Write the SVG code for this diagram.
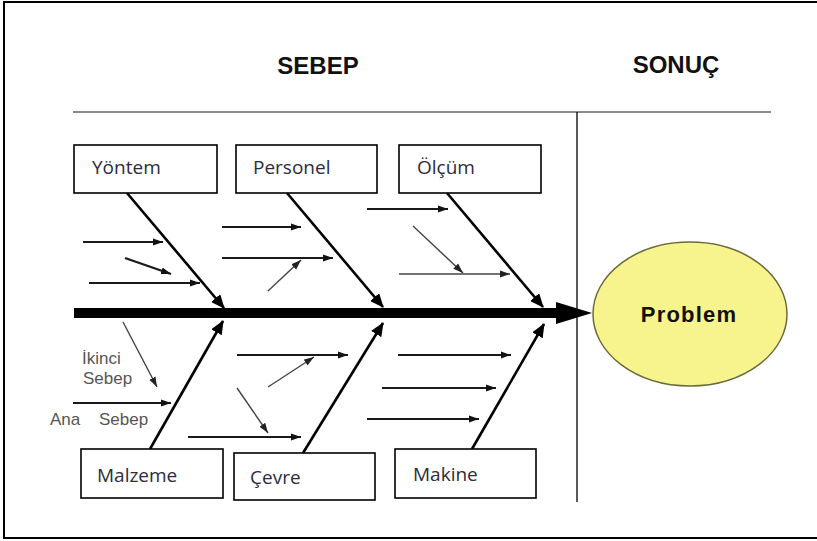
<svg xmlns="http://www.w3.org/2000/svg" width="817" height="541" viewBox="0 0 817 541">
  <defs>
    <marker id="headBig" markerUnits="userSpaceOnUse" markerWidth="14" markerHeight="12" refX="13" refY="6" orient="auto">
      <path d="M0,0 L14,6 L0,12 z" fill="#000"/>
    </marker>
    <marker id="headSmall" markerUnits="userSpaceOnUse" markerWidth="10" markerHeight="8" refX="10" refY="4" orient="auto">
      <path d="M0,0.5 L10,4 L0,7.5 z" fill="#111"/>
    </marker>
    <marker id="headGray" markerUnits="userSpaceOnUse" markerWidth="10" markerHeight="8" refX="10" refY="4" orient="auto">
      <path d="M0,0.5 L10,4 L0,7.5 z" fill="#222"/>
    </marker>
  </defs>
  <style>
    .frame { fill: #fff; stroke: #000; stroke-width: 2; }
    .title { font-family: "Liberation Sans", Arial, sans-serif; font-weight: bold; font-size: 24px; fill: #111; }
    .box { fill: #fff; stroke: #000; stroke-width: 1.6; }
    .label { font-family: "Open Sans", "Noto Sans", sans-serif; font-size: 19px; fill: #2c2c3c; }
    .note { font-family: "Liberation Sans", Arial, sans-serif; font-size: 17px; fill: #555; }
    .bone { stroke: #000; stroke-width: 2.6; fill: none; marker-end: url(#headBig); }
    .sub { stroke: #1a1a1a; stroke-width: 2.2; fill: none; marker-end: url(#headSmall); }
    .minor { stroke: #444; stroke-width: 1.4; fill: none; marker-end: url(#headGray); }
  </style>

  <!-- page frame -->
  <rect class="frame" x="4" y="2" width="814" height="536"/>

  <!-- headings and dividers -->
  <g id="headings">
    <text class="title" x="318" y="74" text-anchor="middle">SEBEP</text>
    <text class="title" x="676" y="73" text-anchor="middle">SONUÇ</text>
    <line x1="73" y1="112" x2="771" y2="112" stroke="#8a8a8a" stroke-width="2.2"/>
    <line x1="577" y1="112" x2="577" y2="502" stroke="#000" stroke-width="1.3"/>
  </g>

  <!-- connectors -->
  <g id="connectors">
    <!-- spine -->
    <line x1="74" y1="313" x2="560" y2="313" stroke="#000" stroke-width="10"/>
    <polygon points="556,302 592,313 556,324" fill="#000"/>

    <!-- main bones -->
    <line class="bone" x1="127" y1="193" x2="224" y2="308"/>
    <line class="bone" x1="287" y1="193" x2="383" y2="307"/>
    <line class="bone" x1="447" y1="193" x2="543" y2="307"/>
    <line class="bone" x1="150" y1="449" x2="223" y2="321"/>
    <line class="bone" x1="303" y1="453" x2="383" y2="323"/>
    <line class="bone" x1="472" y1="449" x2="544" y2="324"/>

    <!-- Yöntem causes -->
    <line class="sub" x1="83" y1="242" x2="163" y2="242"/>
    <line class="sub" x1="125" y1="258" x2="171" y2="274"/>
    <line class="sub" x1="89" y1="283" x2="200" y2="283"/>

    <!-- Personel causes -->
    <line class="sub" x1="222" y1="227" x2="301" y2="227"/>
    <line class="sub" x1="222" y1="258" x2="333" y2="258"/>
    <line class="minor" x1="268" y1="291" x2="301" y2="260"/>

    <!-- Ölçüm causes -->
    <line class="sub" x1="367" y1="209" x2="448" y2="209"/>
    <line class="minor" x1="413" y1="226" x2="463" y2="273"/>
    <line class="minor" x1="399" y1="274" x2="510" y2="274"/>

    <!-- Malzeme causes -->
    <line class="minor" x1="123" y1="322" x2="157" y2="387"/>
    <line class="sub" x1="73" y1="403" x2="171" y2="403"/>

    <!-- Çevre causes -->
    <line class="sub" x1="237" y1="355" x2="348" y2="355"/>
    <line class="minor" x1="268" y1="387" x2="314" y2="357"/>
    <line class="minor" x1="237" y1="388" x2="268" y2="433"/>
    <line class="sub" x1="188" y1="437" x2="301" y2="437"/>

    <!-- Makine causes -->
    <line class="sub" x1="398" y1="355" x2="511" y2="355"/>
    <line class="sub" x1="382" y1="388" x2="496" y2="388"/>
    <line class="sub" x1="367" y1="419" x2="479" y2="419"/>
  </g>

  <!-- category nodes -->
  <g id="yontem">
    <rect class="box" x="74" y="145" width="143" height="48"/>
    <text class="label" x="92" y="174">Yöntem</text>
  </g>
  <g id="personel">
    <rect class="box" x="236" y="145" width="141" height="48"/>
    <text class="label" x="253" y="174">Personel</text>
  </g>
  <g id="olcum">
    <rect class="box" x="399" y="145" width="142" height="48"/>
    <text class="label" x="417" y="174">Ölçüm</text>
  </g>
  <g id="malzeme">
    <rect class="box" x="81" y="449" width="142" height="49"/>
    <text class="label" x="97" y="482">Malzeme</text>
  </g>
  <g id="cevre">
    <rect class="box" x="234" y="453" width="141" height="47"/>
    <text class="label" x="250" y="484">Çevre</text>
  </g>
  <g id="makine">
    <rect class="box" x="395" y="449" width="141" height="49"/>
    <text class="label" x="413" y="481">Makine</text>
  </g>

  <!-- legend labels -->
  <g id="legend">
    <text class="note" x="82" y="364">İkinci</text>
    <text class="note" x="83" y="384">Sebep</text>
    <text class="note" x="50" y="425">Ana<tspan x="99">Sebep</tspan></text>
  </g>

  <!-- effect -->
  <g id="problem">
    <ellipse cx="690" cy="314" rx="97" ry="72" fill="#f7f48e" stroke="#6b6b3a" stroke-width="1.5"/>
    <text x="689" y="322" text-anchor="middle" font-family="Liberation Sans, Arial, sans-serif" font-weight="bold" font-size="22" letter-spacing="1.2" fill="#111">Problem</text>
  </g>
</svg>
